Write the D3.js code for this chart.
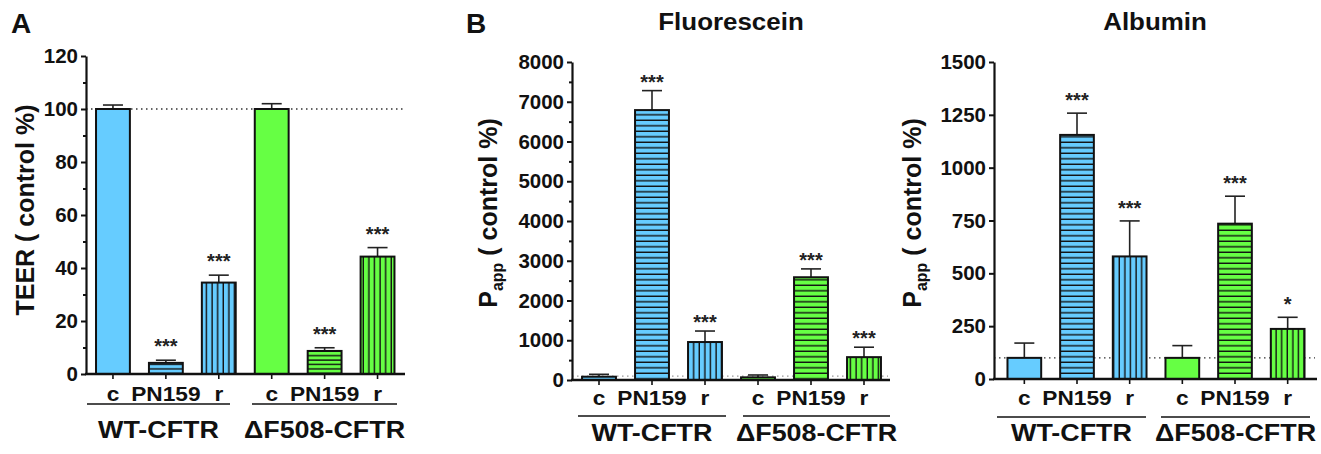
<!DOCTYPE html>
<html>
  <head>
    <meta charset="UTF-8" />
    <title>TEER and permeability</title>
    <script src="https://d3js.org/d3.v7.min.js"></script>
    <style>
      body { margin: 0; background: #fff; }
      svg { font-family: "Liberation Sans", Arial, sans-serif; font-weight: bold; }
      .axis path, .axis line { stroke: #111; }
      .axis text { font-family: "Liberation Sans", Arial, sans-serif; font-weight: bold; fill: #111; }
    </style>
  </head>
  <body>
    <svg width="1321" height="454"></svg>
    <script>
      // categories
      var treatments = ["c", "PN159", "r"];
      var groups = ["WT-CFTR", "ΔF508-CFTR"];
      var groupColors = ["#66ccff", "#66ff44"];

      // A: TEER
      var teerMean = [100, 4.2, 34.5, 100, 8.7, 44.3];
      var teerSem = [1.5, 1, 2.8, 2, 1.2, 3.4];
      var teerStars = ["", "***", "***", "", "***", "***"];
      var teerTicks = [0, 20, 40, 60, 80, 100, 120];
      var teerMinor = [10, 30, 50, 70, 90, 110];

      // B: Fluorescein
      var fluoMean = [83, 6790, 955, 67, 2585, 575];
      var fluoSem = [60, 490, 277, 59, 210, 250];
      var fluoStars = ["", "***", "***", "", "***", "***"];
      var fluoTicks = [0, 1000, 2000, 3000, 4000, 5000, 6000, 7000, 8000];
      var fluoMinor = [500, 1500, 2500, 3500, 4500, 5500, 6500, 7500];

      // B: Albumin
      var albMean = [100, 1155, 580, 100, 735, 237];
      var albSem = [70, 103, 168, 58, 130, 55];
      var albStars = ["", "***", "***", "", "***", "*"];
      var albTicks = [0, 250, 500, 750, 1000, 1250, 1500];
      var albMinor = [];

      var svg = d3.select("svg");

      var panels = [
        {
          key: "A", mean: teerMean, sem: teerSem, stars: teerStars,
          ticks: teerTicks, minor: teerMinor, yLabel: "TEER",
          axisX: 86, yTop: 56, yBottom: 374, xRight: 405, band: [86.5, 404],
          hStep: 4.4, vStep: 5.6, starGap: 18, refColor: "#333",
          yLabelX: 25, yLabelY: 210, catY: 401, lineY: 404, groupY: 438,
          lines: [[87, 230], [252, 397]]
        },
        {
          key: "F", mean: fluoMean, sem: fluoSem, stars: fluoStars,
          ticks: fluoTicks, minor: fluoMinor, yLabel: "Papp",
          axisX: 572, yTop: 62, yBottom: 380, xRight: 890, band: [572.5, 890.5],
          hStep: 5.5, vStep: 5.6, starGap: 13, refColor: "#999",
          yLabelX: 488, yLabelY: 213, catY: 405, lineY: 416, groupY: 441,
          lines: [[578, 726], [743, 890]]
        },
        {
          key: "Al", mean: albMean, sem: albSem, stars: albStars,
          ticks: albTicks, minor: albMinor, yLabel: "Papp",
          axisX: 994, yTop: 62, yBottom: 379, xRight: 1317, band: [998, 1314],
          hStep: 5.5, vStep: 5.6, starGap: 17, refColor: "#333",
          yLabelX: 912, yLabelY: 213, catY: 405, lineY: 417, groupY: 441,
          lines: [[997, 1146], [1161, 1310]]
        }
      ];

      var defs = svg.append("defs");

      // striped fills for PN159 (horizontal) and r (vertical)
      panels.forEach(function (p) {
        groupColors.forEach(function (col, gi) {
          var h = defs.append("pattern")
            .attr("id", "h-" + p.key + gi)
            .attr("patternUnits", "userSpaceOnUse")
            .attr("width", 10).attr("height", p.hStep);
          h.append("rect").attr("width", 10).attr("height", p.hStep).attr("fill", col);
          h.append("line").attr("x1", 0).attr("x2", 10)
            .attr("y1", p.hStep - 0.7).attr("y2", p.hStep - 0.7)
            .attr("stroke", "#111").attr("stroke-width", 1.4);

          var v = defs.append("pattern")
            .attr("id", "v-" + p.key + gi)
            .attr("patternUnits", "userSpaceOnUse")
            .attr("width", p.vStep).attr("height", 10);
          v.append("rect").attr("width", p.vStep).attr("height", 10).attr("fill", col);
          v.append("line").attr("y1", 0).attr("y2", 10)
            .attr("x1", p.vStep - 0.7).attr("x2", p.vStep - 0.7)
            .attr("stroke", "#111").attr("stroke-width", 1.4);
        });
      });

      // horizontally widened bold text, like the reference figure
      function wideText(sel, x, y, size, sx) {
        return sel.append("text")
          .attr("transform", "translate(" + x + "," + y + ") scale(" + sx + ",1)")
          .attr("text-anchor", "middle")
          .attr("font-size", size)
          .attr("fill", "#111");
      }

      panels.forEach(function (p) {
        var data = p.mean.map(function (m, i) {
          return { i: i, mean: m, sem: p.sem[i], star: p.stars[i],
                   t: i % 3, g: Math.floor(i / 3) };
        });

        var y = d3.scaleLinear()
          .domain([0, p.ticks[p.ticks.length - 1]])
          .range([p.yBottom, p.yTop]);

        var x = d3.scaleBand()
          .domain(d3.range(data.length))
          .range(p.band)
          .paddingInner(0.36)
          .paddingOuter(0.18);

        var g = svg.append("g");

        // reference line at 100 %
        g.append("line")
          .attr("x1", p.axisX).attr("x2", p.xRight - 2)
          .attr("y1", y(100)).attr("y2", y(100))
          .attr("stroke", p.refColor)
          .attr("stroke-width", 1.3)
          .attr("stroke-dasharray", "1.5,3.5");

        // error bars (upper only)
        var eb = g.append("g").selectAll("g").data(data).enter().append("g");
        eb.append("line")
          .attr("x1", function (d) { return x(d.i) + x.bandwidth() / 2; })
          .attr("x2", function (d) { return x(d.i) + x.bandwidth() / 2; })
          .attr("y1", function (d) { return y(d.mean); })
          .attr("y2", function (d) { return y(d.mean + d.sem); })
          .attr("stroke", "#222").attr("stroke-width", 1.6);
        eb.append("line")
          .attr("x1", function (d) { return x(d.i) + x.bandwidth() / 2 - 10; })
          .attr("x2", function (d) { return x(d.i) + x.bandwidth() / 2 + 10; })
          .attr("y1", function (d) { return y(d.mean + d.sem); })
          .attr("y2", function (d) { return y(d.mean + d.sem); })
          .attr("stroke", "#222").attr("stroke-width", 1.6);

        // bars
        g.append("g").selectAll("rect").data(data).enter().append("rect")
          .attr("x", function (d) { return x(d.i); })
          .attr("y", function (d) { return y(d.mean); })
          .attr("width", x.bandwidth())
          .attr("height", function (d) { return y(0) - y(d.mean); })
          .attr("fill", function (d) {
            if (d.t === 0) return groupColors[d.g];
            return "url(#" + (d.t === 1 ? "h-" : "v-") + p.key + d.g + ")";
          })
          .attr("stroke", "#111")
          .attr("stroke-width", 2);

        // significance stars
        g.append("g").selectAll("text").data(data).enter().append("text")
          .attr("x", function (d) { return x(d.i) + x.bandwidth() / 2; })
          .attr("y", function (d) { return y(d.mean + d.sem) - p.starGap + 11; })
          .attr("text-anchor", "middle")
          .attr("font-size", 20)
          .attr("fill", "#222")
          .text(function (d) { return d.star; });

        // y axis
        g.append("g")
          .attr("class", "axis")
          .attr("transform", "translate(" + p.axisX + ",0)")
          .call(d3.axisLeft(y).tickValues(p.minor).tickSize(3).tickFormat(""))
          .call(function (s) { s.select(".domain").remove(); })
          .selectAll("line").attr("stroke-width", 2);

        var ya = g.append("g")
          .attr("class", "axis")
          .attr("transform", "translate(" + p.axisX + ",0)")
          .call(d3.axisLeft(y).tickValues(p.ticks).tickFormat(d3.format("d"))
            .tickSize(5).tickSizeOuter(0).tickPadding(3));
        ya.selectAll("text").attr("font-size", 20.5);
        ya.selectAll("line").attr("stroke-width", 2);
        ya.select(".domain").attr("stroke-width", 2.2);

        // x axis
        var xa = g.append("g")
          .attr("class", "axis")
          .attr("transform", "translate(0," + p.yBottom + ")")
          .call(d3.axisBottom(x).tickSize(5).tickSizeOuter(0).tickFormat(""));
        xa.select(".domain").remove();
        xa.selectAll("line").attr("stroke-width", 1.6);
        g.append("line")
          .attr("x1", p.axisX - 1).attr("x2", p.xRight)
          .attr("y1", p.yBottom).attr("y2", p.yBottom)
          .attr("stroke", "#111").attr("stroke-width", 2.5);

        // treatment labels
        data.forEach(function (d) {
          wideText(g, x(d.i) + x.bandwidth() / 2, p.catY, 21, 1.08).text(treatments[d.t]);
        });

        // group underlines and labels
        groups.forEach(function (name, gi) {
          var l = p.lines[gi];
          g.append("line")
            .attr("x1", l[0]).attr("x2", l[1])
            .attr("y1", p.lineY).attr("y2", p.lineY)
            .attr("stroke", "#111").attr("stroke-width", 1.3);
          wideText(g, (l[0] + l[1]) / 2, p.groupY, 24, 1.12).text(name);
        });

        // y axis title
        var yt = g.append("text")
          .attr("transform", "translate(" + p.yLabelX + "," + p.yLabelY + ") rotate(-90)")
          .attr("text-anchor", "middle")
          .attr("dy", "0.35em")
          .attr("font-size", 25)
          .attr("fill", "#111");
        if (p.yLabel === "Papp") {
          yt.append("tspan").text("P");
          yt.append("tspan").attr("font-size", 16).attr("dy", 6).text("app");
          yt.append("tspan").attr("dy", -6).text(" ( control %)");
        } else {
          yt.text(p.yLabel + " ( control %)");
        }
      });

      // panel letters and titles
      svg.append("text").attr("x", 11).attr("y", 33).attr("font-size", 28).attr("fill", "#111").text("A");
      svg.append("text").attr("x", 466).attr("y", 33).attr("font-size", 28).attr("fill", "#111").text("B");
      wideText(svg, 731, 30, 24, 1.08).text("Fluorescein");
      wideText(svg, 1155, 30, 24, 1.08).text("Albumin");
    </script>
  </body>
</html>
